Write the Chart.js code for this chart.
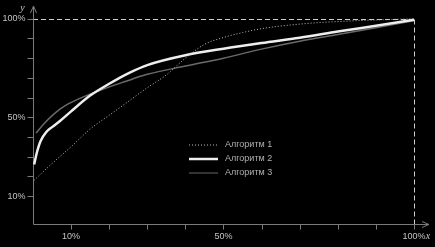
<!DOCTYPE html>
<html>
<head>
<meta charset="utf-8">
<script src="https://cdn.jsdelivr.net/npm/chart.js@4"></script>
<style>
  html, body { margin: 0; padding: 0; background: #000; }
  #wrap { width: 435px; height: 247px; }
</style>
</head>
<body>
<div id="wrap"><canvas id="chart" width="435" height="247"></canvas></div>
<script>
const seriesNames = ['Алгоритм 1', 'Алгоритм 2', 'Алгоритм 3'];

const alg1X = [0.3, 5, 10, 15, 20, 25, 30, 35, 40, 45, 50, 55, 60, 70, 80, 90, 100];
const alg1Y = [18, 26.5, 35, 44, 51, 58, 65, 71.5, 80, 87, 90.5, 93, 95, 97.3, 98.6, 99.4, 100];

const alg2X = [0.3, 1, 2, 3.5, 5, 7, 10, 15, 20, 25, 30, 40, 50, 60, 70, 80, 90, 100];
const alg2Y = [26, 32, 38, 42.5, 45, 48, 53, 61, 67, 72.3, 76.5, 81.5, 84.8, 87.7, 90.4, 93.5, 96.5, 99.5];

const alg3X = [0.8, 3, 6, 9, 14, 18, 24, 30, 40, 50, 60, 70, 80, 90, 100];
const alg3Y = [42, 47, 52.5, 56.5, 61, 64, 68, 71.8, 76, 80, 84.6, 88.6, 92, 95.4, 99];

const tickValues = [10, 20, 30, 40, 50, 60, 70, 80, 90, 100];
const labelValues = [10, 50, 100];
const tickLabels = ['10%', '50%', '100%'];

const pts = (xs, ys) => xs.map((x, i) => ({ x, y: ys[i] }));

const styles = [
  { color: '#bdbdbd', width: 1, dash: [1, 2] },
  { color: '#eeeeee', width: 2.5, dash: [] },
  { color: '#6a6a6a', width: 1.5, dash: [] }
];

const frame = {
  id: 'frame',
  beforeDatasetsDraw(chart) {
    const { ctx, scales: { x, y }, chartArea: a } = chart;
    const x0 = x.getPixelForValue(0), y0 = a.bottom;
    ctx.save();
    // dashed 100% lines
    ctx.strokeStyle = '#cfcfcf';
    ctx.lineWidth = 1;
    ctx.setLineDash([5, 3]);
    const y100 = Math.round(y.getPixelForValue(100)) + 0.5;
    const x100 = Math.round(x.getPixelForValue(100)) + 0.5;
    ctx.beginPath();
    ctx.moveTo(x0, y100); ctx.lineTo(x100, y100);
    ctx.moveTo(x100, y100); ctx.lineTo(x100, y0);
    ctx.stroke();
    ctx.setLineDash([]);

    // axes
    ctx.strokeStyle = '#7a7a7a';
    const ax = Math.round(x0) + 0.5, ay = Math.round(y0) + 0.5;
    ctx.beginPath();
    ctx.moveTo(ax, ay); ctx.lineTo(ax, a.top + 1);
    ctx.moveTo(ax, ay); ctx.lineTo(a.right - 1, ay);
    // arrows
    ctx.moveTo(ax - 3, a.top + 8); ctx.lineTo(ax, a.top + 1); ctx.lineTo(ax + 3, a.top + 8);
    ctx.moveTo(a.right - 8, ay - 3); ctx.lineTo(a.right - 1, ay); ctx.lineTo(a.right - 8, ay + 3);
    // ticks
    tickValues.forEach(v => {
      const py = Math.round(y.getPixelForValue(v)) + 0.5;
      ctx.moveTo(ax - 6, py); ctx.lineTo(ax, py);
      const px = Math.round(x.getPixelForValue(v)) + 0.5;
      ctx.moveTo(px, ay); ctx.lineTo(px, ay + 5);
    });
    ctx.stroke();

    // tick labels
    ctx.fillStyle = '#c4c4c4';
    ctx.font = '9px "Liberation Sans", Arial, sans-serif';
    ctx.textBaseline = 'middle';
    labelValues.forEach((v, i) => {
      ctx.textAlign = 'right';
      ctx.fillText(tickLabels[i], ax - 8, y.getPixelForValue(v));
      ctx.textAlign = 'center';
      ctx.fillText(tickLabels[i], x.getPixelForValue(v), ay + 12);
    });
    ctx.font = 'italic 10px "Liberation Serif", serif';
    ctx.textAlign = 'center';
    ctx.fillText('y', ax - 11, a.top + 3);
    ctx.fillText('x', a.right - 2, ay + 12);
    ctx.restore();
  },
  afterDraw(chart) {
    const { ctx } = chart;
    ctx.save();
    ctx.font = '9px "Liberation Sans", Arial, sans-serif';
    ctx.textBaseline = 'middle';
    ctx.textAlign = 'left';
    seriesNames.forEach((name, i) => {
      const ly = 145 + i * 14;
      const s = styles[i];
      ctx.strokeStyle = i === 2 ? '#444' : s.color;
      ctx.lineWidth = s.width;
      ctx.setLineDash(s.dash);
      ctx.beginPath();
      ctx.moveTo(189, ly); ctx.lineTo(218, ly);
      ctx.stroke();
      ctx.setLineDash([]);
      ctx.fillStyle = '#b0b0b0';
      ctx.fillText(name, 225, ly);
    });
    ctx.restore();
  }
};

new Chart(document.getElementById('chart'), {
  type: 'line',
  data: {
    datasets: [pts(alg1X, alg1Y), pts(alg2X, alg2Y), pts(alg3X, alg3Y)].map((d, i) => ({
      label: seriesNames[i],
      data: d,
      borderColor: styles[i].color,
      borderWidth: styles[i].width,
      borderDash: styles[i].dash,
      pointRadius: 0,
      cubicInterpolationMode: 'monotone',
      fill: false
    }))
  },
  options: {
    responsive: false,
    animation: false,
    layout: { padding: { left: 33, right: 5, top: 5, bottom: 23 } },
    plugins: { legend: { display: false }, tooltip: { enabled: false } },
    scales: {
      x: { type: 'linear', min: 0, max: 104.2, display: false },
      y: { type: 'linear', min: -4.2, max: 107, display: false }
    }
  },
  plugins: [frame]
});
</script>
</body>
</html>
